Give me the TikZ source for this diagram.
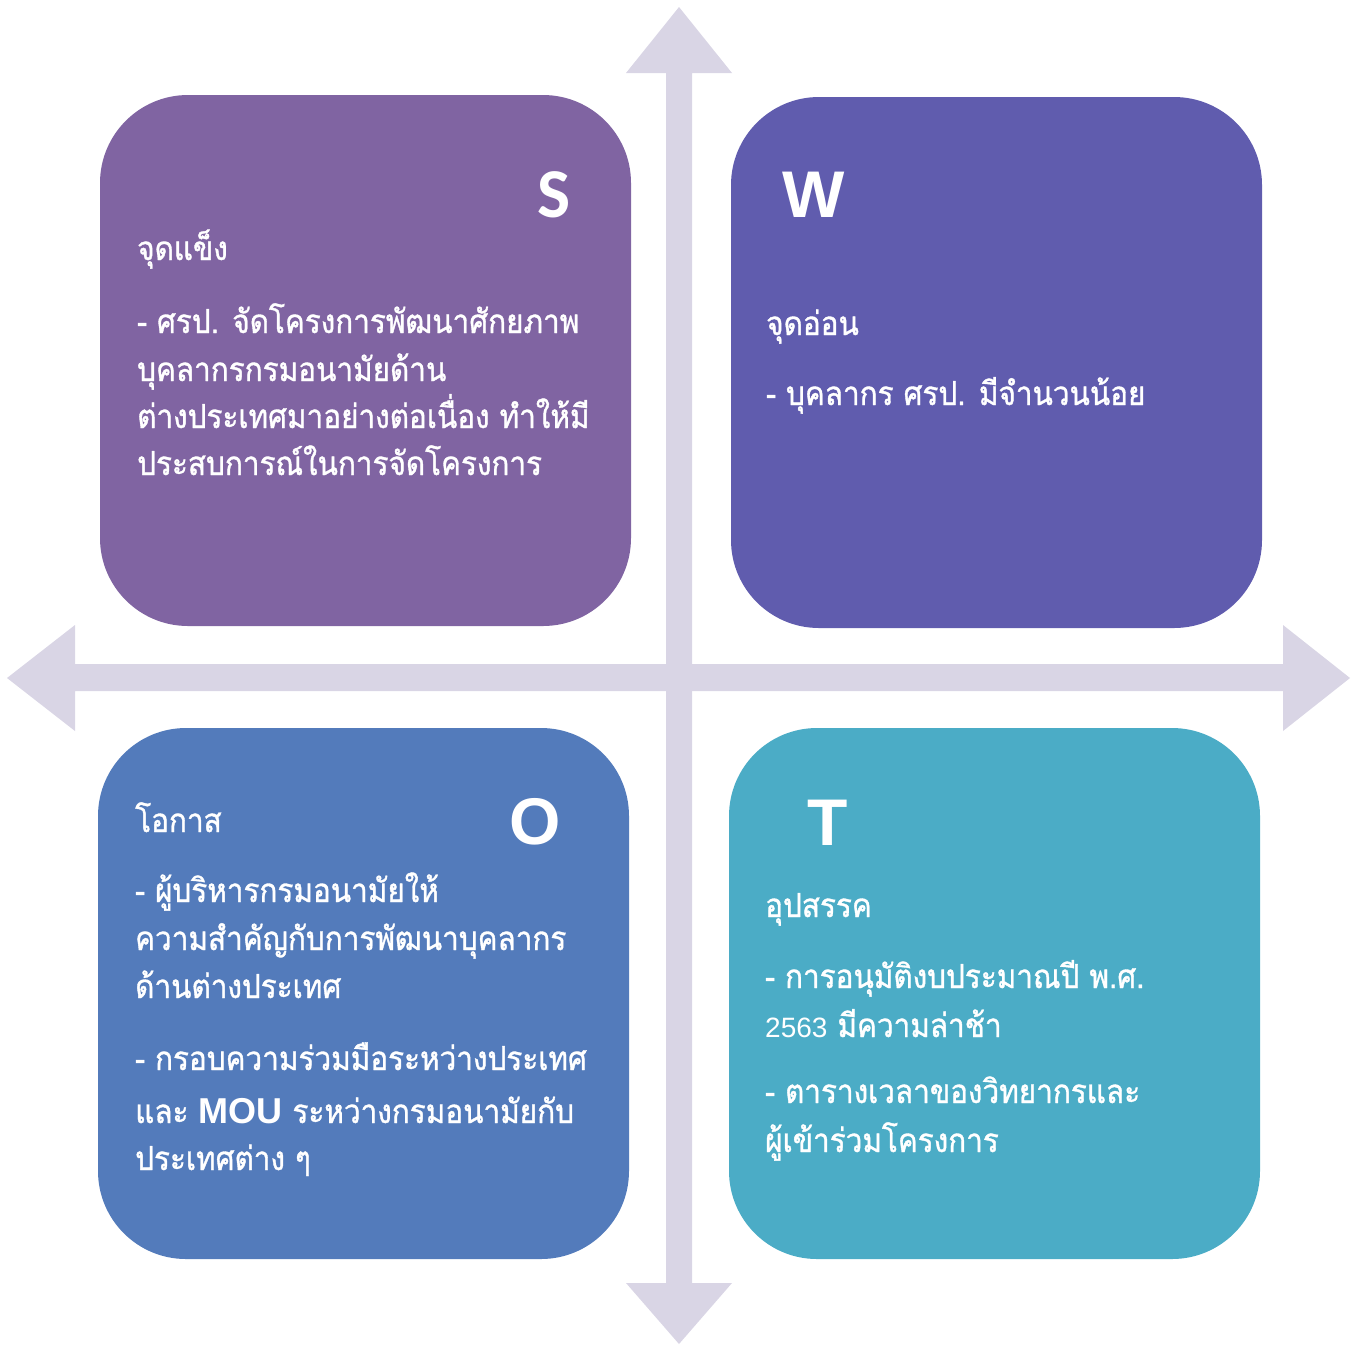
\documentclass[tikz,border=0pt]{standalone}
\usepackage{fontspec}
\newfontfamily\thai[Script=Thai, FakeStretch=0.9, FakeBold=1.1]{Loma}
\newfontfamily\lat{Liberation Sans}
\newfontfamily\calb{Carlito}
\definecolor{cS}{HTML}{8064A2}
\definecolor{cW}{HTML}{605CAE}
\definecolor{cO}{HTML}{537BBB}
\definecolor{cT}{HTML}{4BACC6}
\definecolor{arrowc}{HTML}{D9D5E5}
\tikzset{
  quad/.style={draw=none, rounded corners=88pt, minimum width=531pt, minimum height=531pt, inner sep=0pt},
  txt/.style={anchor=base west, text=white, inner sep=0pt, font=\thai\fontsize{33}{40}\selectfont},
  letter/.style={anchor=base, text=white, inner sep=0pt, font=\lat\bfseries\fontsize{66}{70}\selectfont}
}
\begin{document}
\begin{tikzpicture}[x=1pt,y=-1pt]
\useasboundingbox (0,0) rectangle (1354,1345);
% arrows
\fill[arrowc] (666,73) -- (626,73) -- (679,7) -- (732,73) -- (692,73) -- (692,1283) -- (732,1283) -- (679,1344) -- (626,1283) -- (666,1283) -- cycle;
\fill[arrowc] (75,664) -- (75,625) -- (7,678) -- (75,731) -- (75,691) -- (1283,691) -- (1283,731) -- (1350,678) -- (1283,625) -- (1283,664) -- cycle;
% boxes
\node[quad, fill=cS] (S) at (365.5,360.5) {};
\node[quad, fill=cW] (W) at (996.5,362.5) {};
\node[quad, fill=cO] (O) at (363.5,993.5) {};
\node[quad, fill=cT] (T) at (994.5,993.5) {};
% letters
\node[letter, font=\calb\bfseries\fontsize{70}{74}\selectfont] (lS) at (554,217) {S};
\node[letter] (lW) at (814,217) {W};
\node[letter] (lO) at (535,844) {O};
\node[letter] (lT) at (828,845) {T};
% S text
\node[txt] (s1) at (137,260) {จุดแข็ง};
\node[txt] (s2) at (137,333) {- ศรป. จัดโครงการพัฒนาศักยภาพ};
\node[txt] (s3) at (137,381) {บุคลากรกรมอนามัยด้าน};
\node[txt] (s4) at (137,428) {ต่างประเทศมาอย่างต่อเนื่อง ทำให้มี};
\node[txt] (s5) at (137,475) {ประสบการณ์ในการจัดโครงการ};
% W text
\node[txt] (w1) at (766,335) {จุดอ่อน};
\node[txt] (w2) at (766,405) {- บุคลากร ศรป. มีจำนวนน้อย};
% O text
\node[txt] (o1) at (135,832) {โอกาส};
\node[txt] (o2) at (135,902) {- ผู้บริหารกรมอนามัยให้};
\node[txt] (o3) at (135,950) {ความสำคัญกับการพัฒนาบุคลากร};
\node[txt] (o4) at (135,998) {ด้านต่างประเทศ};
\node[txt] (o5) at (135,1070) {- กรอบความร่วมมือระหว่างประเทศ};
\node[txt] (o6) at (135,1123) {และ {\lat\bfseries\fontsize{36}{40}\selectfont MOU} ระหว่างกรมอนามัยกับ};
\node[txt] (o7) at (135,1170) {ประเทศต่าง ๆ};
% T text
\node[txt] (t1) at (765,917) {อุปสรรค};
\node[txt] (t2) at (765,988) {- การอนุมัติงบประมาณปี พ.ศ.};
\node[txt] (t3) at (765,1037) {{\lat\fontsize{28}{32}\selectfont 2563} มีความล่าช้า};
\node[txt] (t4) at (765,1103) {- ตารางเวลาของวิทยากรและ};
\node[txt] (t5) at (765,1152) {ผู้เข้าร่วมโครงการ};
\end{tikzpicture}
\end{document}
